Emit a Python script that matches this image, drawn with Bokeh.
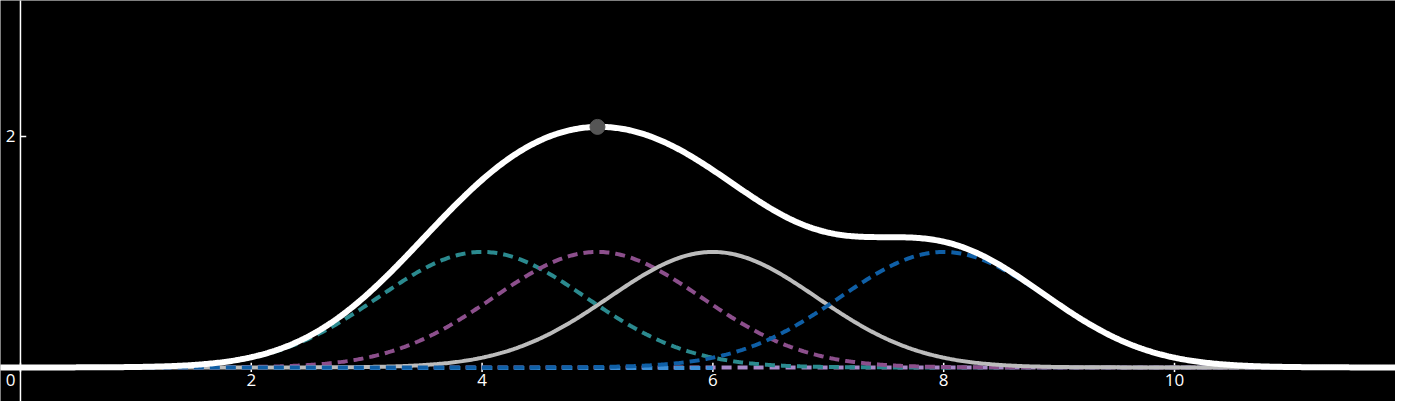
import numpy as np
from bokeh.models import ColumnDataSource, Range1d
from bokeh.plotting import figure
from bokeh.core.properties import value
from bokeh.embed import file_html
from bokeh.resources import INLINE

# bump curves
centers = [4.0, 5.0, 6.0, 8.0]
heights = [1.0, 1.0, 1.0, 1.0]
sigma = 0.9
colors = ["#2b8a8f", "#8c4f8c", "#bcbcbc", "#0f5fa6"]
dashes = ["10 6", "10 6", "solid", "10 6"]
x_ticks = [0, 2, 4, 6, 8, 10, 12]
y_ticks = [2]
peak_x = 5.0

xs = np.linspace(-0.3, 12.2, 800)
curves = [h * np.exp(-(xs - c) ** 2 / (2 * sigma ** 2)) for c, h in zip(centers, heights)]
total = sum(curves)

p = figure(width=1395, height=401, output_backend="svg", toolbar_location=None,
           x_range=Range1d(-0.173, 11.915), y_range=Range1d(-0.295, 3.177),
           min_border=0, background_fill_color="black", border_fill_color="black",
           outline_line_color=None)
p.axis.visible = False
p.grid.visible = False

# axes
p.segment(x0=[0], y0=[-0.5], x1=[0], y1=[3.3], line_color="white", line_width=1.5)
p.segment(x0=x_ticks, y0=[-0.04] * len(x_ticks), x1=x_ticks, y1=[0.04] * len(x_ticks),
          line_color="white", line_width=1.5)
p.segment(x0=[0] * len(y_ticks), y0=y_ticks, x1=[0.05] * len(y_ticks), y1=y_ticks,
          line_color="white", line_width=1.5)

# baseline tails
p.line([1.5, 10.5], [0.0, 0.0], line_color="#a98ac9", line_width=4, line_dash="10 6")
p.line([2.2, 6.0], [-0.005, -0.005], line_color="#3d8fd6", line_width=4, line_dash="10 6")

for ys, col, d in zip(curves, colors, dashes):
    p.line(xs, ys, line_color=col, line_width=4, line_dash=d)

p.line(xs, total, line_color="white", line_width=6)
peak_y = float(sum(h * np.exp(-(peak_x - c) ** 2 / (2 * sigma ** 2)) for c, h in zip(centers, heights)))
p.scatter([peak_x], [peak_y], size=15, fill_color="#555555", line_color="#555555")

lab = ColumnDataSource(dict(x=[t if t != 0 else -0.085 for t in x_ticks], y=[-0.06] * len(x_ticks),
                            t=[str(t) for t in x_ticks]))
p.text("x", "y", text="t", source=lab, text_color="white", text_font=value("Open Sans"),
       text_font_size="17px", text_align="center", text_baseline="top")
p.text([-0.085] * len(y_ticks), y_ticks, text=[str(t) for t in y_ticks], text_color="white",
       text_font=value("Open Sans"), text_font_size="17px", text_align="center",
       text_baseline="middle")

open("out.html", "w").write(file_html(p, INLINE))
